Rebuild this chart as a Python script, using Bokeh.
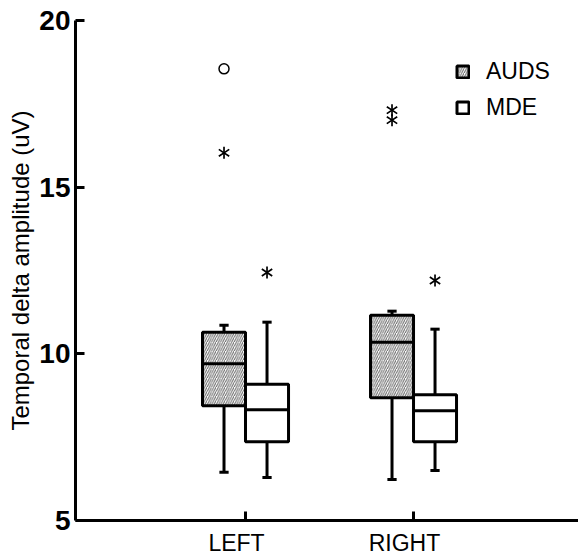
from bokeh.plotting import figure
from bokeh.models import (ColumnDataSource, FixedTicker, Range1d, Legend, LegendItem,
                          LinearAxis)
from bokeh.embed import file_html
from bokeh.resources import INLINE

# ---- data ----
categories = ["LEFT", "RIGHT"]
cat_pos = [1, 2]
groups = ["AUDS", "MDE"]

auds_lo = [6.45, 6.23]
auds_q1 = [8.44, 8.68]
auds_med = [9.70, 10.35]
auds_q3 = [10.65, 11.16]
auds_hi = [10.86, 11.28]

mde_lo = [6.29, 6.50]
mde_q1 = [7.36, 7.36]
mde_med = [8.32, 8.29]
mde_q3 = [9.09, 8.77]
mde_hi = [10.95, 10.74]

auds_out_cat = ["LEFT", "LEFT", "RIGHT", "RIGHT"]
auds_out_val = [18.55, 16.03, 17.31, 17.01]
auds_out_kind = ["circle", "asterisk", "asterisk", "asterisk"]

mde_out_cat = ["LEFT", "RIGHT"]
mde_out_val = [12.44, 12.20]
mde_out_kind = ["asterisk", "asterisk"]

y_ticks = [5, 10, 15, 20]

# ---- style ----
BOX_W = 0.256
CAP_W = 0.055
LABEL_SHIFT = -9 / 168
LW = 3
FONT = "Liberation Sans"

p = figure(width=578, height=558, output_backend="svg", toolbar_location=None,
           x_range=Range1d(-0.012, 2.982), y_range=Range1d(5, 20),
           min_border_left=75, min_border_top=20, min_border_bottom=36, min_border_right=0,
           x_axis_location=None)
p.outline_line_color = None
p.grid.visible = False
p.background_fill_color = "white"
p.border_fill_color = "white"

pos = dict(zip(categories, cat_pos))


def draw_group(lo, q1, med, q3, hi, offset, hatch):
    xc = [c + offset for c in cat_pos]
    src = ColumnDataSource(dict(
        x=xc, left=[x - BOX_W / 2 for x in xc], right=[x + BOX_W / 2 for x in xc],
        cl=[x - CAP_W / 2 for x in xc], cr=[x + CAP_W / 2 for x in xc],
        lo=lo, q1=q1, med=med, q3=q3, hi=hi))
    kw = dict(fill_color="white", line_color="black", line_width=LW)
    if hatch:
        kw.update(hatch_pattern="/", hatch_color="#666666", hatch_scale=4.5, hatch_weight=1)
    r = p.quad(left="left", right="right", bottom="q1", top="q3", source=src, **kw)
    p.segment(x0="left", x1="right", y0="med", y1="med", source=src, line_color="black", line_width=LW)
    p.segment(x0="x", x1="x", y0="q3", y1="hi", source=src, line_color="black", line_width=LW)
    p.segment(x0="x", x1="x", y0="lo", y1="q1", source=src, line_color="black", line_width=LW)
    p.segment(x0="cl", x1="cr", y0="hi", y1="hi", source=src, line_color="black", line_width=LW)
    p.segment(x0="cl", x1="cr", y0="lo", y1="lo", source=src, line_color="black", line_width=LW)
    return r


r_auds = draw_group(auds_lo, auds_q1, auds_med, auds_q3, auds_hi, -BOX_W / 2, True)
r_mde = draw_group(mde_lo, mde_q1, mde_med, mde_q3, mde_hi, BOX_W / 2, False)


def draw_outliers(cats, vals, kinds, offset):
    xs = [pos[c] + offset for c in cats]
    circ = [(x, v) for x, v, k in zip(xs, vals, kinds) if k == "circle"]
    star = [(x, v) for x, v, k in zip(xs, vals, kinds) if k == "asterisk"]
    if circ:
        p.scatter(x=[c[0] for c in circ], y=[c[1] for c in circ], marker="circle",
                  size=10, line_color="black", fill_color=None, line_width=1.5)
    if star:
        sx = [s[0] for s in star]
        sy = [s[1] for s in star]
        # six-armed asterisk: a "y" marker and its upside-down copy
        p.scatter(x=sx, y=sy, marker="y", size=12, line_color="black", line_width=1.7)
        p.scatter(x=sx, y=sy, marker="y", size=12, angle=3.14159265, line_color="black",
                  line_width=1.7)


draw_outliers(auds_out_cat, auds_out_val, auds_out_kind, -BOX_W / 2)
draw_outliers(mde_out_cat, mde_out_val, mde_out_kind, BOX_W / 2)

# x axis: line and ticks
xa = LinearAxis(ticker=FixedTicker(ticks=cat_pos))
xa.major_label_overrides = {c: "" for c in cat_pos}
xa.major_label_text_font_size = "0px"
xa.major_label_standoff = 0
# x axis labels (set slightly left of the ticks, as in the original)
lab_pos = [c + LABEL_SHIFT for c in cat_pos]
xl = LinearAxis(ticker=FixedTicker(ticks=lab_pos))
xl.major_label_overrides = {c: n for c, n in zip(lab_pos, categories)}
xl.axis_line_color = None
xl.major_tick_line_color = None
xl.minor_tick_line_color = None
xl.major_tick_in = 0
xl.major_tick_out = 0
xl.major_label_text_font = FONT
xl.major_label_text_font_size = "23px"
xl.major_label_text_color = "black"
xl.major_label_standoff = 9

for ax in (xa, p.yaxis[0]):
    ax.axis_line_width = LW
    ax.major_tick_line_width = LW
    ax.major_tick_in = 9
    ax.major_tick_out = 0
    ax.minor_tick_line_color = None
    ax.axis_line_color = "black"
    ax.major_tick_line_color = "black"

p.add_layout(xa, "below")
p.add_layout(xl, "below")

p.yaxis.ticker = FixedTicker(ticks=y_ticks)
p.yaxis.major_label_text_font = FONT
p.yaxis.major_label_text_color = "black"
p.yaxis.major_label_text_font_size = "28px"
p.yaxis.major_label_text_font_style = "bold"
p.yaxis.major_label_standoff = 5
p.yaxis.axis_label = "Temporal delta amplitude (uV)"
p.yaxis.axis_label_text_font = FONT
p.yaxis.axis_label_text_font_size = "24px"
p.yaxis.axis_label_text_font_style = "normal"
p.yaxis.axis_label_text_color = "black"
p.yaxis.axis_label_standoff = 2

legend = Legend(items=[LegendItem(label=groups[0], renderers=[r_auds]),
                       LegendItem(label=groups[1], renderers=[r_mde])],
                location=(380, 399), orientation="vertical")
legend.border_line_color = None
legend.background_fill_alpha = 0
legend.padding = 0
legend.margin = 0
legend.glyph_width = 15
legend.glyph_height = 15
legend.label_standoff = 16
legend.spacing = 9
legend.label_height = 24
legend.label_text_font = FONT
legend.label_text_font_size = "23px"
legend.label_text_color = "black"
p.add_layout(legend)

open("out.html", "w").write(file_html(p, INLINE))
